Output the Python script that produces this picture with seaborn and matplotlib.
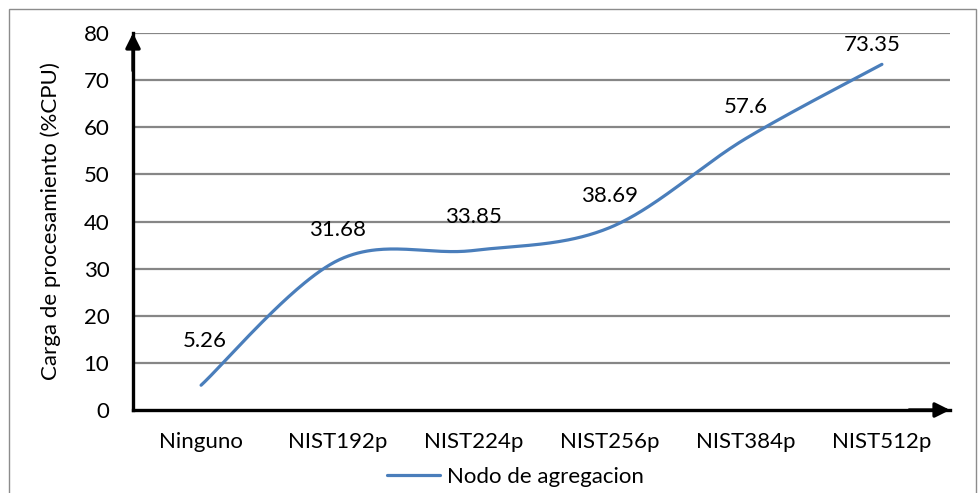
import numpy as np
import pandas as pd
import matplotlib
matplotlib.use("Agg")
import matplotlib.pyplot as plt
from matplotlib.patches import Rectangle
import seaborn as sns

# Data
categorias = ["Ninguno", "NIST192p", "NIST224p", "NIST256p", "NIST384p", "NIST512p"]
carga_cpu = [5.26, 31.68, 33.85, 38.69, 57.6, 73.35]
serie = "Nodo de agregacion"
y_ticks = [0, 10, 20, 30, 40, 50, 60, 70, 80]

# Label placement (offset in points from each point)
label_offsets = [(3, 32), (0, 22), (0, 24), (0, 23), (0, 23), (-7, 14)]

sns.set_theme(style="white")
plt.rcParams["font.family"] = ["Lato", "DejaVu Sans"]

LINE_BLUE = "#4A7EBB"
GRID_GRAY = "#868686"
FS = 16


def smooth_curve(xs, ys, n=60):
    """Bezier smoothing through every point (Catmull-Rom style control points)."""
    pts = np.column_stack([xs, ys]).astype(float)
    ext = np.vstack([pts[0], pts, pts[-1]])
    out = []
    t = np.linspace(0, 1, n)[:, None]
    for i in range(len(pts) - 1):
        p0, p1, p2, p3 = ext[i], ext[i + 1], ext[i + 2], ext[i + 3]
        c1 = p1 + (p2 - p0) / 6.0
        c2 = p2 - (p3 - p1) / 6.0
        seg = ((1 - t) ** 3) * p1 + 3 * ((1 - t) ** 2) * t * c1 + 3 * (1 - t) * t ** 2 * c2 + t ** 3 * p2
        out.append(seg if i == 0 else seg[1:])
    out = np.vstack(out)
    return out[:, 0], out[:, 1]


x_pos = np.arange(len(categorias))
sx, sy = smooth_curve(x_pos, carga_cpu)
curva = pd.DataFrame({"x": sx, "y": sy, "serie": serie})

fig = plt.figure(figsize=(9.79, 4.93), dpi=100)
W, H = 979, 493
ax = fig.add_axes([133 / W, 1 - 410 / H, (950 - 133) / W, (410 - 33) / H])

sns.lineplot(data=curva, x="x", y="y", hue="serie", palette=[LINE_BLUE],
             linewidth=2.3, sort=False, estimator=None, ax=ax, clip_on=False)

ax.set_xlim(-0.5, len(categorias) - 0.5)
ax.set_ylim(0, 80)
ax.set_yticks(y_ticks)
ax.set_yticklabels([str(v) for v in y_ticks], fontsize=FS, color="black")
ax.set_xticks(x_pos)
ax.set_xticklabels(categorias, fontsize=FS, color="black")
ax.set_xticks(np.arange(-0.5, len(categorias), 1.0), minor=True)

ax.tick_params(axis="x", which="major", length=0, pad=16)
ax.tick_params(axis="x", which="minor", length=5, width=2.4, color="black", direction="out")
ax.tick_params(axis="y", which="major", length=6, width=2.4, color="black", direction="out", pad=11)

for v in y_ticks[1:]:
    ax.axhline(v, color=GRID_GRAY, linewidth=1.6, zorder=0)

for side in ["top", "right"]:
    ax.spines[side].set_visible(False)
for side in ["left", "bottom"]:
    ax.spines[side].set_color("black")
    ax.spines[side].set_linewidth(2.4)

# Arrowheads on the axes
arrow_kw = dict(arrowstyle="-|>", color="black", lw=2.4, mutation_scale=22,
                shrinkA=0, shrinkB=0)
ax.annotate("", xy=(0, 1.0), xytext=(0, 0.9), xycoords="axes fraction",
            arrowprops=arrow_kw, annotation_clip=False)
ax.annotate("", xy=(1.0, 0), xytext=(0.95, 0), xycoords="axes fraction",
            arrowprops=arrow_kw, annotation_clip=False)

# Value labels
for xi, val, (dx, dy) in zip(x_pos, carga_cpu, label_offsets):
    ax.annotate(f"{val:g}", xy=(xi, val), xytext=(dx, dy), textcoords="offset points",
                ha="center", va="center", fontsize=FS, color="black",
                annotation_clip=False)

ax.set_xlabel("")
ax.set_ylabel("Carga de procesamiento (%CPU)", fontsize=FS, color="black", labelpad=16)

ax.legend(loc="center", bbox_to_anchor=(515 / W, 1 - 477 / H), bbox_transform=fig.transFigure,
          frameon=False, fontsize=FS, handlelength=2.4, handletextpad=0.3,
          labelcolor="black")

# Outer chart border
fig.patches.append(Rectangle((9 / W, -0.05), (976 - 9) / W, 1.05 - 9 / H,
                             transform=fig.transFigure, fill=False,
                             edgecolor="#8c8c8c", linewidth=1.0))

fig.savefig("out.png", dpi=100)
